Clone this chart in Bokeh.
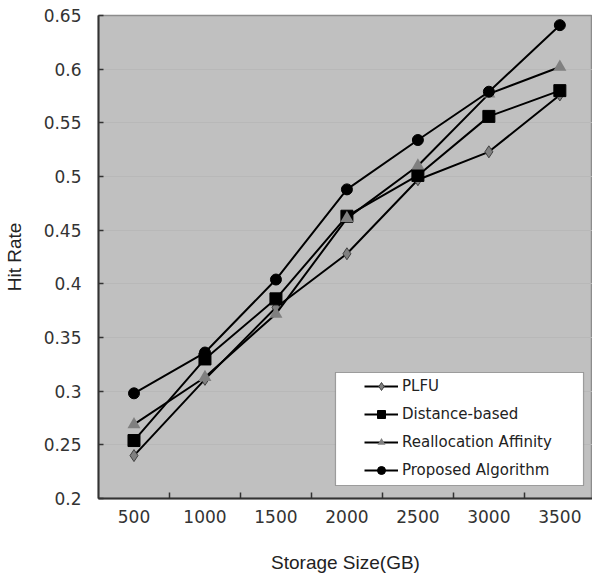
from bokeh.plotting import figure
from bokeh.models import (Range1d, FixedTicker, Legend, LegendItem, BoxAnnotation)
from bokeh.embed import file_html
from bokeh.resources import INLINE

# ---- data ----
sizes = ["500", "1000", "1500", "2000", "2500", "3000", "3500"]
plfu = [0.240, 0.311, 0.378, 0.428, 0.497, 0.523, 0.576]
distance_based = [0.254, 0.330, 0.386, 0.463, 0.501, 0.556, 0.580]
reallocation_affinity = [0.269, 0.313, 0.372, 0.461, 0.510, 0.577, 0.602]
proposed = [0.298, 0.336, 0.404, 0.488, 0.534, 0.579, 0.641]
y_ticks = [0.2, 0.25, 0.3, 0.35, 0.4, 0.45, 0.5, 0.55, 0.6, 0.65]
y_tick_labels = ["0.2", "0.25", "0.3", "0.35", "0.4", "0.45", "0.5", "0.55", "0.6", "0.65"]

xs = [i + 0.5 for i in range(len(sizes))]
boundaries = [i for i in range(1, len(sizes))]

p = figure(width=592, height=576, output_backend="svg", toolbar_location=None,
           x_range=Range1d(0, 6.96), y_range=Range1d(0.2, 0.65),
           min_border_left=97, min_border_right=0, min_border_top=15,
           min_border_bottom=78)
p.background_fill_color = "#c0c0c0"
p.border_fill_color = "white"
p.outline_line_color = "#8c8c8c"
p.outline_line_width = 1.5

p.xgrid.grid_line_color = None
p.ygrid.ticker = FixedTicker(ticks=y_ticks)
p.ygrid.grid_line_color = "#b8b8b8"
p.ygrid.grid_line_width = 1

# x axis
xa = p.xaxis[0]
xa.ticker = FixedTicker(ticks=xs, minor_ticks=boundaries)
xa.major_label_overrides = {x: s for x, s in zip(xs, sizes)}
xa.major_tick_line_color = None
xa.minor_tick_in = 6
xa.minor_tick_out = 0
xa.minor_tick_line_color = "#333333"
xa.minor_tick_line_width = 1.5
xa.axis_line_color = "#333333"
xa.axis_line_width = 2
xa.major_label_text_font = "DejaVu Sans"
xa.major_label_text_font_size = "17px"
xa.major_label_text_color = "#333333"
xa.major_label_standoff = 5
xa.axis_label = "Storage Size(GB)"
xa.axis_label_text_font = "Liberation Sans"
xa.axis_label_text_font_size = "19px"
xa.axis_label_text_font_style = "normal"
xa.axis_label_text_color = "#222222"
xa.axis_label_standoff = 26

# y axis
ya = p.yaxis[0]
ya.ticker = FixedTicker(ticks=y_ticks, minor_ticks=[])
ya.major_label_overrides = {t: s for t, s in zip(y_ticks, y_tick_labels)}
ya.major_tick_in = 5
ya.major_tick_out = 0
ya.major_tick_line_color = "#333333"
ya.major_tick_line_width = 1.5
ya.axis_line_color = "#333333"
ya.axis_line_width = 2
ya.major_label_text_font = "DejaVu Sans"
ya.major_label_text_font_size = "17px"
ya.major_label_text_color = "#333333"
ya.major_label_standoff = 17
ya.axis_label = "Hit Rate"
ya.axis_label_text_font = "Liberation Sans"
ya.axis_label_text_font_size = "19px"
ya.axis_label_text_font_style = "normal"
ya.axis_label_text_color = "#222222"
ya.axis_label_standoff = 16

series = [
    ("PLFU", plfu, "diamond", "#808080", "#404040", 12),
    ("Distance-based", distance_based, "square", "black", "black", 12),
    ("Reallocation Affinity", reallocation_affinity, "triangle", "#808080", None, 13),
    ("Proposed Algorithm", proposed, "circle", "black", "black", 11),
]

items = []
for name, vals, marker, fill, line, size in series:
    lr = p.line(xs, vals, line_color="black", line_width=2)
    sr = p.scatter(xs, vals, marker=marker, size=size, fill_color=fill,
                   line_color=line, line_width=1)
    items.append(LegendItem(label=name, renderers=[lr, sr]))

box = BoxAnnotation(left=237, right=485, bottom=13, top=126,
                    left_units="screen", right_units="screen",
                    bottom_units="screen", top_units="screen",
                    fill_color="white", fill_alpha=1.0,
                    line_color="black", line_width=1.2)
p.add_layout(box)

legend = Legend(items=items, location=(263, 15), padding=3, spacing=8,
                glyph_width=34, glyph_height=20, label_height=20,
                label_standoff=4, label_text_font="DejaVu Sans",
                label_text_font_size="15px", label_text_color="#222222",
                border_line_alpha=0, background_fill_alpha=0)
p.add_layout(legend)

open("out.html", "w").write(file_html(p, INLINE))
